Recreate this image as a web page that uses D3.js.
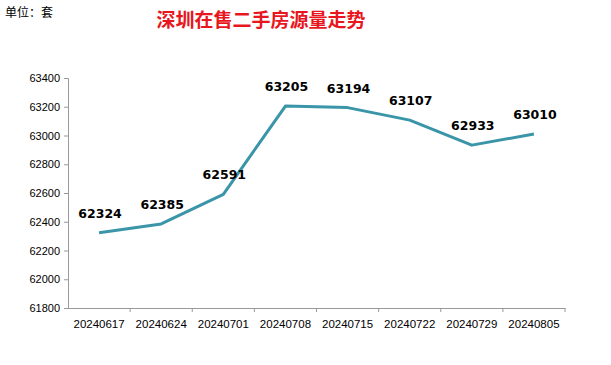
<!DOCTYPE html>
<html><head><meta charset="utf-8">
<script src="https://cdn.jsdelivr.net/npm/d3@7"></script>
<style>body{margin:0;background:#fff}svg{display:block}</style>
</head><body><svg id="c" width="611" height="365"></svg>
<script>
const categories = ["20240617","20240624","20240701","20240708","20240715","20240722","20240729","20240805"];
const values = [62324,62385,62591,63205,63194,63107,62933,63010];
const yTicks = [61800,62000,62200,62400,62600,62800,63000,63200,63400];
const title = "深圳在售二手房源量走势";
const unit = "单位：套";

(function () {
const svg = d3.select("#c");
const mLeft = 68, mRight = 565, mTop = 78, mBottom = 308;
const x = d3.scaleBand().domain(categories).range([mLeft, mRight]);
const y = d3.scaleLinear().domain([61800, 63400]).range([mBottom, mTop]);

svg.append("text").attr("x", 5).attr("y", 17).attr("font-family", "Noto Sans CJK SC").attr("font-size", 12).attr("fill", "#000").text(unit);
svg.append("text").attr("x", 261).attr("y", 27).attr("text-anchor", "middle").attr("font-family", "Noto Sans CJK SC").attr("font-weight", "bold").attr("font-size", 19).attr("fill", "#e8161e").text(title);

const ya = svg.append("g").attr("transform", `translate(${mLeft},0)`)
  .call(d3.axisLeft(y).tickValues(yTicks).tickSize(4).tickPadding(4).tickFormat(d3.format("d")));
ya.select(".domain").attr("stroke", "#999");
ya.selectAll(".tick line").attr("stroke", "#999");
ya.selectAll(".tick text").attr("font-family", "Liberation Sans, Arial").attr("font-size", 11).attr("fill", "#000");

const xa = svg.append("g").attr("transform", `translate(0,${mBottom})`)
  .call(d3.axisBottom(x).tickSize(0).tickPadding(12));
xa.select(".domain").attr("stroke", "#999");
xa.selectAll(".tick line").remove();
xa.selectAll(".tick text").attr("font-family", "Liberation Sans, Arial").attr("font-size", 11.5).attr("fill", "#000");
svg.append("g").selectAll("line").data(categories).join("line")
  .attr("x1", d => x(d) + x.bandwidth()).attr("x2", d => x(d) + x.bandwidth())
  .attr("y1", mBottom).attr("y2", mBottom + 4).attr("stroke", "#999");

const line = d3.line().x((d, i) => x(categories[i]) + x.bandwidth() / 2).y(d => y(d));
svg.append("path").datum(values).attr("d", line).attr("fill", "none").attr("stroke", "#3a95a9").attr("stroke-width", 3).attr("stroke-linejoin", "round");

svg.append("g").selectAll("text").data(values).join("text")
  .attr("x", (d, i) => x(categories[i]) + x.bandwidth() / 2 + 1)
  .attr("y", d => y(d) - 15)
  .attr("text-anchor", "middle").attr("font-family", "DejaVu Sans, Open Sans").attr("font-weight", "bold").attr("font-size", 12.5).attr("fill", "#000")
  .text(d => d);
})();
</script></body></html>
